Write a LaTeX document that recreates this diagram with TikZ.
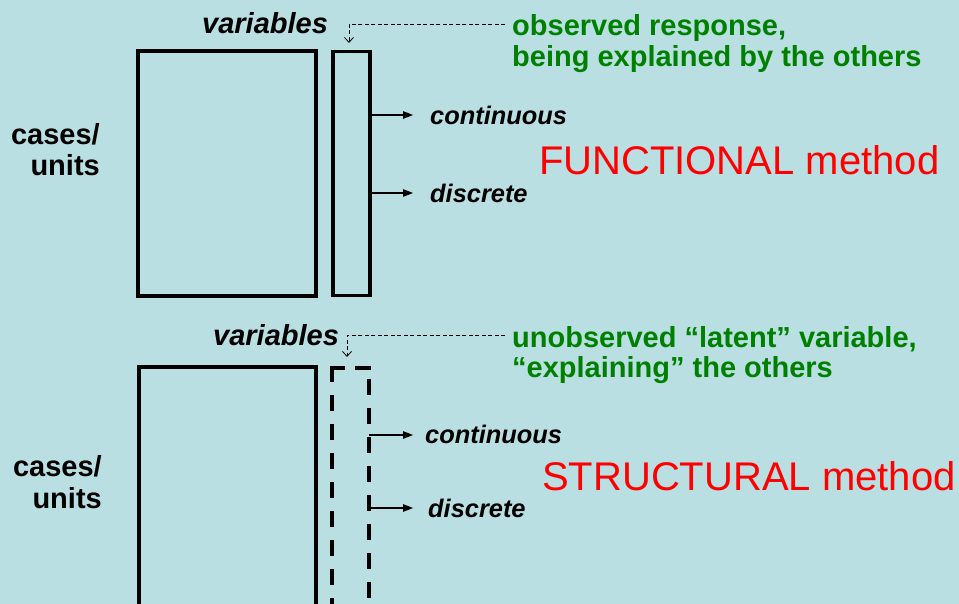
\documentclass[tikz,border=0pt]{standalone}
\usepackage{fontspec}
\setmainfont{Liberation Sans}
\usetikzlibrary{arrows.meta}
\definecolor{bgblue}{RGB}{185,223,227}
\definecolor{notegreen}{RGB}{0,128,0}
\definecolor{methodred}{RGB}{255,0,0}
\begin{document}
\begin{tikzpicture}[x=1pt,y=-1pt,
  lbl/.style={inner sep=0pt,font=\fontsize{29}{31}\selectfont\bfseries},
  varlbl/.style={lbl,font=\fontsize{29}{31}\selectfont\bfseries\itshape},
  kindlbl/.style={inner sep=0pt,font=\fontsize{25.4}{28}\selectfont\bfseries\itshape},
  note/.style={lbl,text=notegreen},
  method/.style={inner sep=0pt,text=methodred,font=\fontsize{40}{44}\selectfont},
  datablock/.style={draw=black,line width=3.5pt},
  latentblock/.style={draw=black,line width=4pt,dash pattern=on 16pt off 13pt},
  pointer/.style={draw=black,line width=0.8pt,dash pattern=on 4pt off 2.5pt,-{Straight Barb[length=5pt,width=9pt]}},
  outarrow/.style={draw=black,line width=1.3pt,-{Triangle[length=10pt,width=7.5pt]}}
]
\fill[bgblue] (0,0) rectangle (959,604);
\useasboundingbox (0,0) rectangle (959,604);

% ---- functional method: observed response ----
\draw[datablock] (138,51) rectangle (316,296);
\node[datablock,inner sep=0pt,minimum width=37pt,minimum height=244pt,anchor=north west] (resp) at (331,50) {};
\node[varlbl,anchor=base west] (vars1) at (202,34) {variables};
\node[lbl,anchor=base east] (cases1) at (100,145) {cases/};
\node[lbl,anchor=base east] (units1) at (100,176) {units};
\node[note,anchor=base west] (obs1) at (512,36) {observed response,};
\node[note,anchor=base west] (obs2) at (512,67) {being explained by the others};
\coordinate (ptr1) at (505,24);
\draw[pointer] (ptr1) -- (349,24) -- (349,43);
\coordinate (c1) at (368,115);
\coordinate (d1) at (368,193);
\node[kindlbl,anchor=base west] (cont1) at (430,125) {continuous};
\node[kindlbl,anchor=base west] (disc1) at (430,203) {discrete};
\draw[outarrow] (c1) -- (413,115);
\draw[outarrow] (d1) -- (413,193);
\node[method,anchor=base west] (func) at (539,175) {FUNCTIONAL method};

% ---- structural method: latent variable ----
\begin{scope}
\clip (0,0) rectangle (959,604);
\draw[datablock,line width=4pt] (139,367) -- (316,367) (139,365) -- (139,640) (316,365) -- (316,640);
% dashed column, each side dashed on its own
\draw[latentblock] (332,366) -- (332,640);
\draw[latentblock,dash pattern=on 15pt off 10pt on 20pt] (330,368) -- (371,368);
\draw[latentblock,dash phase=16pt] (369,366) -- (369,640);
\end{scope}
\node[varlbl,anchor=base west] (vars2) at (213,345) {variables};
\node[lbl,anchor=base east] (cases2) at (102,476) {cases/};
\node[lbl,anchor=base east] (units2) at (102,508) {units};
\node[note,anchor=base west] (lat1) at (512,347) {unobserved “latent” variable,};
\node[note,anchor=base west] (lat2) at (512,377) {“explaining” the others};
\coordinate (ptr2) at (505,335);
\draw[pointer] (ptr2) -- (347,335) -- (347,357);
\coordinate (c2) at (369,435);
\coordinate (d2) at (369,508);
\node[kindlbl,anchor=base west] (cont2) at (425,443) {continuous};
\node[kindlbl,anchor=base west] (disc2) at (428,517) {discrete};
\draw[outarrow] (c2) -- (413,435);
\draw[outarrow] (d2) -- (413,508);
\node[method,anchor=base west] (struct) at (542,490) {STRUCTURAL method};
\end{tikzpicture}
\end{document}
